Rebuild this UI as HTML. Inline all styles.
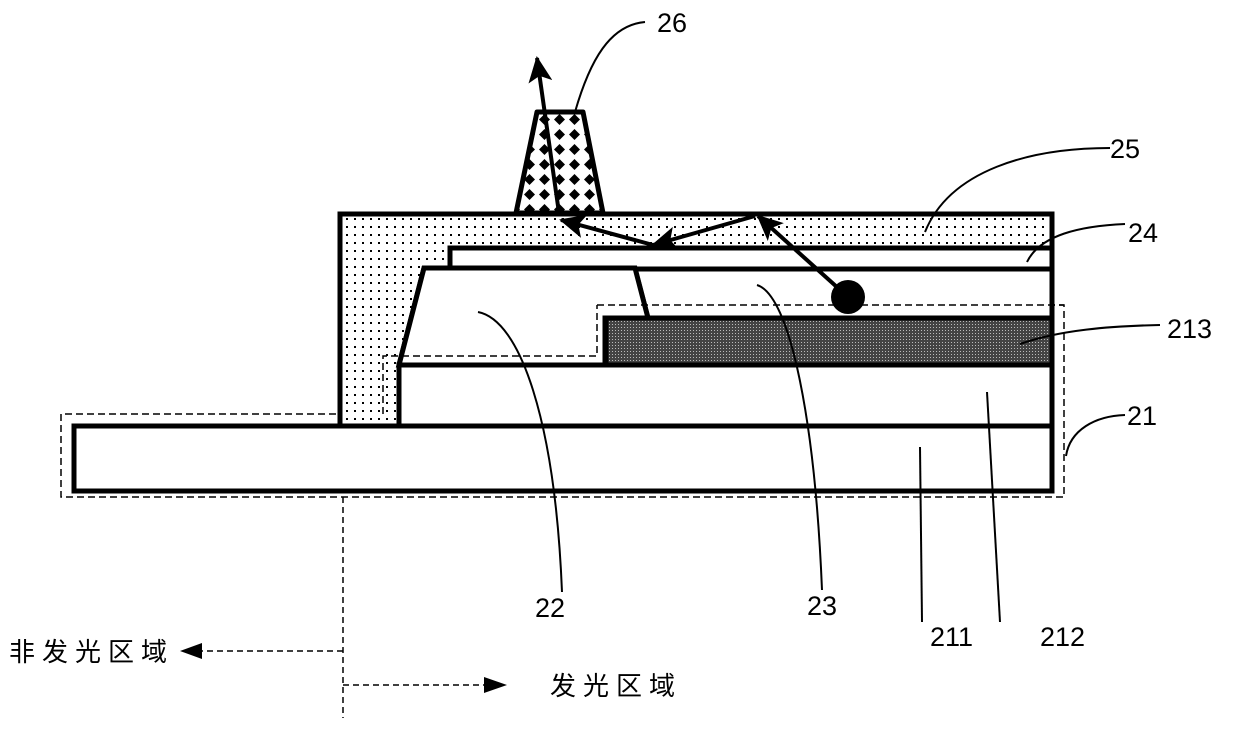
<!DOCTYPE html>
<html><head><meta charset="utf-8"><style>
html,body{margin:0;padding:0;background:#fff;}
svg{display:block;}
text{font-family:"Liberation Sans","DejaVu Sans",sans-serif;font-size:27px;fill:#000;}
.cjk{font-family:"Liberation Sans","Noto Sans CJK SC",sans-serif;font-size:26px;letter-spacing:7px;}
</style></head><body>
<svg width="1240" height="729" viewBox="0 0 1240 729" xmlns="http://www.w3.org/2000/svg">
<defs>
<pattern id="dots" width="8" height="8" patternUnits="userSpaceOnUse">
<rect width="8" height="8" fill="#fff"/><rect x="2" y="2" width="2" height="2" fill="#000"/>
</pattern>
<pattern id="dark" width="3" height="3" patternUnits="userSpaceOnUse">
<rect width="3" height="3" fill="#444"/><rect x="0" y="0" width="1" height="1" fill="#bbb"/>
</pattern>
<pattern id="dia" width="15" height="15" patternUnits="userSpaceOnUse" x="537" y="112">
<rect width="15" height="15" fill="#fff"/><polygon points="7.5,2 13,7.5 7.5,13 2,7.5" fill="#000"/>
</pattern>
<marker id="ah" markerWidth="26" markerHeight="24" refX="24" refY="12" orient="auto" markerUnits="userSpaceOnUse" viewBox="0 0 26 24">
<polygon points="0,0 26,12 0,24 6,12" fill="#000"/>
</marker>
</defs>

<path d="M597,305 H1064 V497 H61 V414 H383 V356 H597 Z" fill="none" stroke="#000" stroke-width="1.5" stroke-dasharray="7,4"/>

<path d="M340,214 H1052 V248 H450 V268 H424 L399,365 V426 H340 Z" fill="url(#dots)" stroke="#000" stroke-width="5" stroke-linejoin="miter"/>
<rect x="450" y="248" width="602" height="21" fill="#fff" stroke="#000" stroke-width="5"/>
<path d="M635,269 H1052 V318 H648 Z" fill="#fff" stroke="#000" stroke-width="5"/>
<path d="M424,268 H635 L648,318 H605 V365 H399 Z" fill="#fff" stroke="#000" stroke-width="5" stroke-linejoin="miter"/>
<rect x="606" y="318" width="446" height="47" fill="url(#dark)" stroke="#000" stroke-width="5"/>
<rect x="399" y="365" width="653" height="61" fill="#fff" stroke="#000" stroke-width="5"/>
<rect x="74" y="426" width="978" height="65" fill="#fff" stroke="#000" stroke-width="5"/>
<path d="M383,414 V356 H597 V305" fill="none" stroke="#000" stroke-width="1.5" stroke-dasharray="7,4"/>
<path d="M597,305 H1064" fill="none" stroke="#000" stroke-width="1.5" stroke-dasharray="7,4"/>

<polygon points="537,112 583,112 603,213 516,213" fill="url(#dia)" stroke="#000" stroke-width="5" stroke-linejoin="round"/>

<circle cx="848" cy="297" r="17" fill="#000"/>
<g stroke="#000" stroke-width="4" fill="none">
<line x1="848" y1="297" x2="758" y2="216" marker-end="url(#ah)"/>
<line x1="755" y1="216" x2="653" y2="245" marker-end="url(#ah)"/>
<line x1="653" y1="245" x2="561" y2="220" marker-end="url(#ah)"/>
<line x1="559" y1="213" x2="537" y2="58" marker-end="url(#ah)"/>
</g>

<g stroke="#000" stroke-width="2" fill="none">
<path d="M575,112 C590,60 610,25 645,22"/>
<path d="M925,232 C950,170 1030,148 1110,148"/>
<path d="M1027,262 C1040,235 1080,226 1125,224"/>
<path d="M1020,344 C1060,330 1110,326 1160,325"/>
<path d="M1066,456 C1070,430 1095,416 1125,415"/>
<path d="M478,312 C520,320 555,420 562,592"/>
<path d="M757,285 C790,295 815,420 822,590"/>
<path d="M920,447 L922,622"/>
<path d="M987,392 L1000,622"/>
</g>

<g stroke="#000" stroke-width="1.5" fill="none" stroke-dasharray="6,4">
<line x1="343" y1="497" x2="343" y2="718"/>
<line x1="343" y1="651" x2="195" y2="651"/>
<line x1="343" y1="685" x2="485" y2="685"/>
</g>
<polygon points="180,651 202,643 202,659" fill="#000"/>
<polygon points="507,685 484,677 484,693" fill="#000"/>

<text x="657" y="32">26</text>
<text x="1110" y="158">25</text>
<text x="1128" y="242">24</text>
<text x="1167" y="338">213</text>
<text x="1127" y="425">21</text>
<text x="535" y="617">22</text>
<text x="807" y="615">23</text>
<text x="930" y="646">211</text>
<text x="1040" y="646">212</text>
<text class="cjk" x="9" y="661">非发光区域</text>
<text class="cjk" x="550" y="695">发光区域</text>
</svg>
</body></html>
